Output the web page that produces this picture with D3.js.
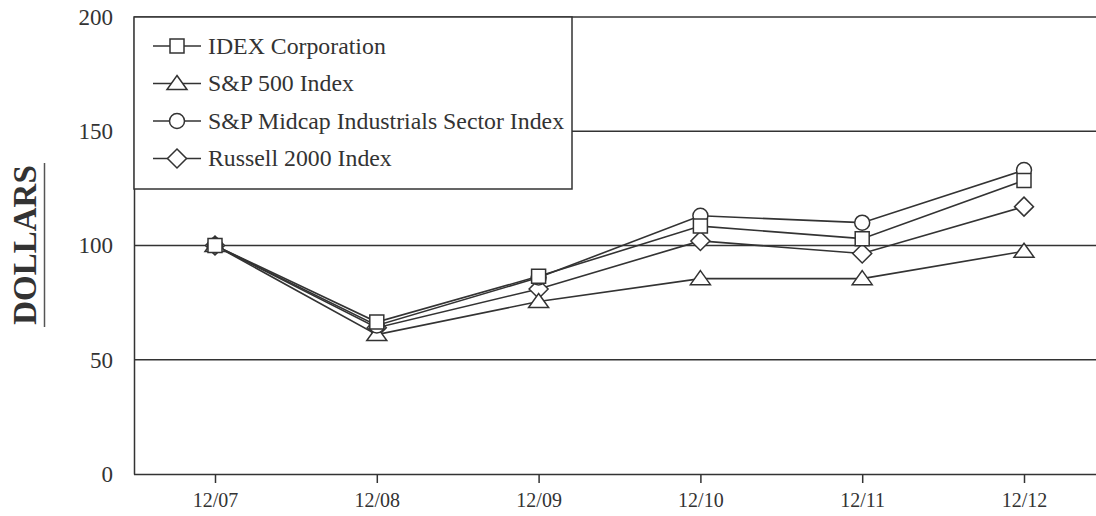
<!DOCTYPE html>
<html>
<head>
<meta charset="utf-8">
<script src="https://cdn.jsdelivr.net/npm/d3@7"></script>
<style>
  html, body { margin: 0; padding: 0; background: #fff; }
  svg { display: block; }
  text { font-family: "Liberation Serif", "DejaVu Serif", serif; fill: #333; }
</style>
</head>
<body>
<svg id="chart" width="1096" height="516"></svg>
<script>
const categories = ["12/07", "12/08", "12/09", "12/10", "12/11", "12/12"];
const idex    = [100, 66.5, 86.5, 108.5, 103, 128.5];
const sp500   = [100, 61, 75.5, 85.5, 85.5, 97.5];
const midcap  = [100, 65, 86, 113, 110, 133];
const russell = [100, 64, 81, 102, 96.5, 117];
const yTicks  = [0, 50, 100, 150, 200];

// custom marker shapes (size = half width)
const squareSym = { draw(ctx, s) { ctx.rect(-s, -s, 2 * s, 2 * s); } };
const circleSym = { draw(ctx, s) { ctx.moveTo(s, 0); ctx.arc(0, 0, s, 0, 2 * Math.PI); } };
const triSym = { draw(ctx, s) { ctx.moveTo(0, -s * 0.8); ctx.lineTo(s, s * 0.6); ctx.lineTo(-s, s * 0.6); ctx.closePath(); } };
const diamondSym = { draw(ctx, s) { ctx.moveTo(0, -s); ctx.lineTo(s, 0); ctx.lineTo(0, s); ctx.lineTo(-s, 0); ctx.closePath(); } };

const seriesList = [
  { name: "IDEX Corporation", values: idex, symbol: squareSym, size: 7 },
  { name: "S&P 500 Index", values: sp500, symbol: triSym, size: 10 },
  { name: "S&P Midcap Industrials Sector Index", values: midcap, symbol: circleSym, size: 7.5 },
  { name: "Russell 2000 Index", values: russell, symbol: diamondSym, size: 9.5 }
];

const svg = d3.select("#chart");
const ink = "#333";
const plotLeft = 134, plotTop = 17, plotBottom = 474;

const x = d3.scalePoint().domain(categories).range([215, 1024]);
const y = d3.scaleLinear().domain([0, 200]).range([plotBottom, plotTop]);

// gridlines
svg.append("g").selectAll("line").data(yTicks.filter(t => t > 0)).join("line")
  .attr("x1", plotLeft).attr("x2", 1096)
  .attr("y1", d => y(d)).attr("y2", d => y(d))
  .attr("stroke", ink).attr("stroke-width", 1.5);

// y axis
const yAxis = svg.append("g").attr("transform", `translate(${plotLeft},0)`)
  .call(d3.axisLeft(y).tickValues(yTicks).tickSize(0).tickPadding(21));
yAxis.select(".domain").attr("stroke", ink).attr("stroke-width", 1.5);
yAxis.selectAll("text").style("font-size", "23px")
  .style("font-family", "Liberation Serif, serif").attr("fill", ink);

// x axis
const xAxis = svg.append("g").attr("transform", `translate(0,${plotBottom})`)
  .call(d3.axisBottom(x).tickSize(9).tickPadding(10).tickSizeOuter(0));
xAxis.select(".domain").attr("d", `M${plotLeft},0.5H1096`).attr("stroke", ink).attr("stroke-width", 1.5);
xAxis.selectAll(".tick line").attr("stroke", ink).attr("stroke-width", 1.5);
xAxis.selectAll("text").style("font-size", "20px")
  .style("font-family", "Liberation Serif, serif").attr("fill", ink);

// Y title
const yTitle = svg.append("g").attr("transform", "translate(36,245) rotate(-90)");
yTitle.append("text").attr("text-anchor", "middle").attr("y", 0)
  .style("font-size", "33px").style("font-weight", "bold").text("DOLLARS");
svg.append("line").attr("x1", 44.5).attr("x2", 44.5).attr("y1", 163).attr("y2", 327)
  .attr("stroke", "#555").attr("stroke-width", 1.5);

// lines
const line = d3.line().x((d, i) => x(categories[i])).y(d => y(d));
svg.append("g").selectAll("path").data(seriesList).join("path")
  .attr("d", s => line(s.values))
  .attr("fill", "none").attr("stroke", ink).attr("stroke-width", 1.6);

// markers (draw order so IDEX on top)
const drawOrder = [seriesList[3], seriesList[1], seriesList[2], seriesList[0]];
drawOrder.forEach(s => {
  svg.append("g").selectAll("path").data(s.values).join("path")
    .attr("transform", (d, i) => `translate(${x(categories[i])},${y(d)})`)
    .attr("d", d3.symbol().type(s.symbol).size(s.size))
    .attr("fill", "#fff").attr("stroke", ink).attr("stroke-width", 1.5);
});

// legend
const lg = svg.append("g");
lg.append("rect").attr("x", plotLeft).attr("y", plotTop).attr("width", 438).attr("height", 172)
  .attr("fill", "#fff").attr("stroke", ink).attr("stroke-width", 1.5);
seriesList.forEach((s, i) => {
  const yy = 46 + i * 37.5;
  lg.append("line").attr("x1", 153).attr("x2", 201).attr("y1", yy).attr("y2", yy)
    .attr("stroke", ink).attr("stroke-width", 1.5);
  lg.append("path").attr("transform", `translate(177,${yy})`)
    .attr("d", d3.symbol().type(s.symbol).size(s.size))
    .attr("fill", "#fff").attr("stroke", ink).attr("stroke-width", 1.5);
  lg.append("text").attr("x", 208).attr("y", yy)
    .attr("dy", "0.32em")
    .style("font-size", "23.8px").text(s.name);
});
</script>
</body>
</html>
